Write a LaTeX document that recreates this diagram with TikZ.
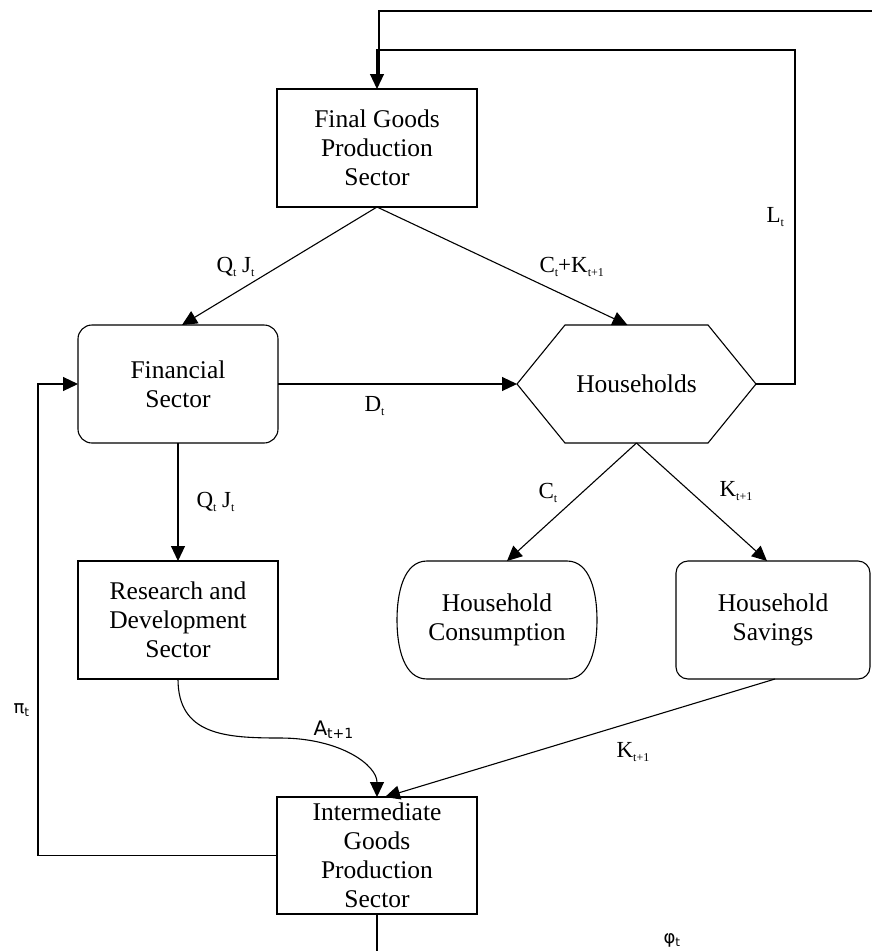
\documentclass[tikz,border=0pt]{standalone}
\usepackage{fontspec}
\setmainfont{Liberation Serif}
\newfontfamily\dvs{DejaVu Sans}
\usetikzlibrary{arrows.meta,calc}
\newcommand\sbt[1]{\raisebox{-0.4ex}{\fontsize{12}{12}\selectfont #1}}
\newcommand\sbs[1]{\raisebox{-0.35ex}{\fontsize{14}{14}\selectfont #1}}
\begin{document}
\begin{tikzpicture}[x=1pt,y=-1pt,line width=1.1pt,
  >={Triangle[length=15pt,width=14pt]},
  boxbase/.style={rectangle,minimum width=200pt,minimum height=118pt,inner sep=0pt,outer sep=0pt,align=center,font=\fontsize{25.5}{29}\selectfont},
  sqbox/.style={boxbase,draw},
  rbox/.style={boxbase,draw,rounded corners=14pt},
  lbl/.style={anchor=base west,inner sep=0pt,font=\fontsize{23}{25}\selectfont},
  slbl/.style={anchor=base west,inner sep=0pt,font=\dvs\fontsize{20}{22}\selectfont},
  conn/.style={->}]
\useasboundingbox (0,0) rectangle (872,951);
% nodes
\node[sqbox] (fg) at (377,148) {Final Goods\\Production\\Sector};
\node[rbox] (fin) at (178,384) {Financial\\Sector};
\node[boxbase,minimum width=239pt] (hh) at (636.5,384) {Households};
\draw (hh.west) -- ($(hh.north west)+(48,0)$) -- ($(hh.north east)+(-48,0)$) -- (hh.east) -- ($(hh.south east)+(-48,0)$) -- ($(hh.south west)+(48,0)$) -- cycle;
\node[sqbox] (rd) at (178,620) {Research and\\Development\\Sector};
\node[boxbase] (hc) at (497,620) {Household\\Consumption};
\draw (427,561) -- (567,561) .. controls (590,561) and (597,592) .. (597,620) .. controls (597,648) and (590,679) .. (567,679) -- (427,679) .. controls (404,679) and (397,648) .. (397,620) .. controls (397,592) and (404,561) .. (427,561) -- cycle;
\node[rbox,minimum width=194pt,rounded corners=12pt] (hs) at (773,620) {Household\\Savings};
\node[sqbox,minimum height=117pt] (ig) at (377,855.5) {Intermediate\\Goods\\Production\\Sector};
% free ends
\coordinate (topR) at (872,11);
\coordinate (botE) at (377,951);
% connectors
\draw (topR) -- (379,11) -- (379,80);
\draw[conn] (hh.east) -- (795,384) -- (795,50) -- (377,50) -- (fg.north);
\draw[conn] (fg.south) -- ($(fin.north)+(4,0)$);
\draw[conn] (fg.south) -- ($(hh.north)+(-9,0)$);
\draw[conn] (fin.east) -- (hh.west);
\draw[conn] (fin.south) -- (rd.north);
\draw[conn] (hh.south) -- ($(hc.north)+(10,0)$);
\draw[conn] (hh.south) -- ($(hs.north)+(-6,0)$);
\draw[conn] (rd.south) .. controls (178,735) and (225,738) .. (280,738) .. controls (340,738) and (377,765) .. (ig.north);
\draw[conn] ($(hs.south)+(2,0)$) -- ($(ig.north)+(8,0)$);
\draw[conn] (ig.west) -- (38,855.5) |- (fin.west);
\draw (ig.south) -- (botE);
% labels
\node[lbl] (l1) at (216,272) {Q\sbt{t} J\sbt{t}};
\node[lbl] (l2) at (539,272) {C\sbt{t}+K\sbt{t+1}};
\node[lbl] (l3) at (364,411) {D\sbt{t}};
\node[lbl] (l4) at (766,222) {L\sbt{t}};
\node[lbl] (l5) at (196,507) {Q\sbt{t} J\sbt{t}};
\node[lbl] (l6) at (538,498) {C\sbt{t}};
\node[lbl] (l7) at (719,496) {K\sbt{t+1}};
\node[slbl] (l8) at (313,735) {A\sbs{t+1}};
\node[lbl] (l9) at (616,757) {K\sbt{t+1}};
\node[slbl,font=\dvs\fontsize{18}{20}\selectfont] (l10) at (13,713) {π\sbt{t}};
\node[slbl,font=\dvs\fontsize{18}{20}\selectfont] (l11) at (663,943) {φ\sbt{t}};
\end{tikzpicture}
\end{document}
